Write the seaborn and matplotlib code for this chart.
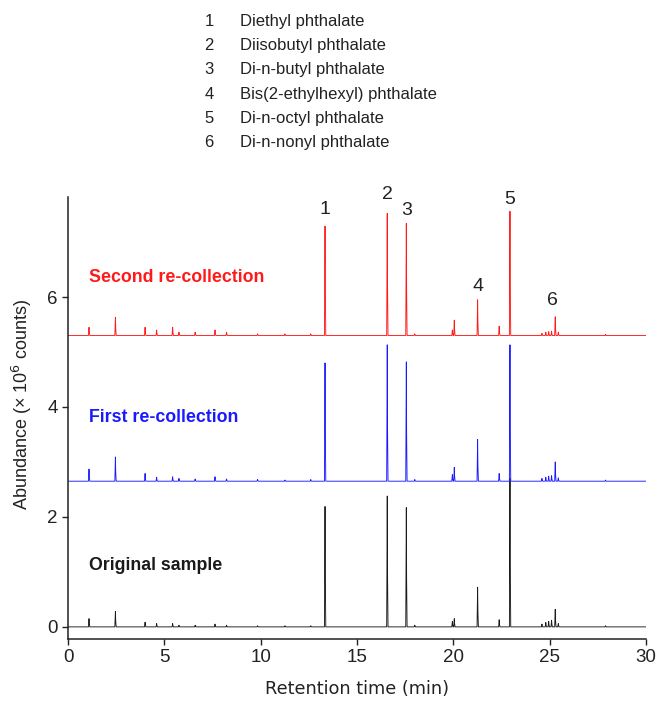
import matplotlib
matplotlib.use("Agg")
import matplotlib.pyplot as plt
import seaborn as sns
import pandas as pd

# retention times (min) of the peaks seen in the traces
peak_times = [1.09, 2.46, 4.0, 4.6, 5.43, 5.76, 6.6, 7.63, 8.23, 9.84, 11.26, 12.6,
              13.34, 16.57, 17.56, 18.0, 19.95, 20.05, 21.26, 22.38, 22.94,
              24.6, 24.8, 24.95, 25.1, 25.29, 25.45, 27.9]

# peak heights above each baseline (x 10^6 counts)
original = [0.15, 0.28, 0.085, 0.06, 0.06, 0.03, 0.03, 0.05, 0.03, 0.02, 0.02, 0.02,
            2.19, 2.38, 2.17, 0.03, 0.10, 0.15, 0.72, 0.13, 2.70,
            0.05, 0.08, 0.10, 0.12, 0.32, 0.06, 0.02]
first = [0.22, 0.44, 0.14, 0.07, 0.08, 0.05, 0.04, 0.08, 0.04, 0.03, 0.02, 0.03,
         2.15, 2.48, 2.17, 0.03, 0.12, 0.25, 0.76, 0.14, 2.48,
         0.05, 0.07, 0.09, 0.10, 0.35, 0.06, 0.02]
second = [0.15, 0.33, 0.15, 0.10, 0.15, 0.06, 0.06, 0.10, 0.06, 0.03, 0.03, 0.03,
          1.99, 2.22, 2.04, 0.03, 0.10, 0.28, 0.65, 0.17, 2.26,
          0.04, 0.06, 0.07, 0.08, 0.34, 0.06, 0.02]

samples = ["Original sample", "First re-collection", "Second re-collection"]
baselines = [0.0, 2.65, 5.3]
colors = ["#1a1a1a", "#1a1aff", "#ff1a1a"]
label_y = [1.11, 3.8, 6.36]

# labelled compounds
compounds = ["Diethyl phthalate", "Diisobutyl phthalate", "Di-n-butyl phthalate",
             "Bis(2-ethylhexyl) phthalate", "Di-n-octyl phthalate", "Di-n-nonyl phthalate"]
num_x = [13.34, 16.57, 17.56, 21.26, 22.94, 25.15]
num_y = [7.6, 7.87, 7.58, 6.2, 7.78, 5.93]

# build the traces as a long table
rows = []
for name, base, heights in zip(samples, baselines, [original, first, second]):
    rows.append((name, 0.0, base))
    for t, h in zip(peak_times, heights):
        rows.append((name, t - 0.03, base))
        rows.append((name, t - 0.01, base + 0.6 * h))
        rows.append((name, t, base + h))
        rows.append((name, t + 0.015, base + 0.4 * h))
        rows.append((name, t + 0.04, base))
    rows.append((name, 30.0, base))
df = pd.DataFrame(rows, columns=["sample", "time", "abundance"])

sns.set_style("ticks")
plt.rcParams["font.family"] = ["Liberation Sans", "DejaVu Sans"]

fig = plt.figure(figsize=(6.61, 7.08), dpi=100)
ax = fig.add_axes([0.1029, 0.0975, 0.8744, 0.6243])

sns.lineplot(data=df, x="time", y="abundance", hue="sample", palette=dict(zip(samples, colors)),
             estimator=None, sort=False, lw=0.65, legend=False, ax=ax)

ax.set_xlim(0, 30)
ax.set_ylim(-0.22, 7.82)
ax.set_xticks([0, 5, 10, 15, 20, 25, 30])
ax.set_yticks([0, 2, 4, 6])
ax.tick_params(labelsize=13.5, length=4, width=1, colors="#222222")
sns.despine(ax=ax)
for s in ["left", "bottom"]:
    ax.spines[s].set_linewidth(1.1)
    ax.spines[s].set_color("#222222")

ax.set_xlabel("Retention time (min)", fontsize=12.8, color="#222222", labelpad=10,
              family=["DejaVu Sans"])
ax.set_ylabel("Abundance (× 10$^6$ counts)", fontsize=13, color="#222222")
ax.yaxis.set_label_coords(-0.058, 0.53)

for name, y, c in zip(samples, label_y, colors):
    ax.text(1.1, y, name, color=c, fontsize=12.8, fontweight="bold", va="center", ha="left")

for i, (x, y) in enumerate(zip(num_x, num_y)):
    ax.text(x, y, str(i + 1), fontsize=14, ha="center", va="center", color="#222222")

for i, name in enumerate(compounds):
    y = 1 - (21.5 + 24.2 * i) / 708
    fig.text(209 / 661, y, str(i + 1), fontsize=12, ha="center", va="center", color="#222222")
    fig.text(240 / 661, y, name, fontsize=12, ha="left", va="center", color="#222222")

fig.savefig("out.png", dpi=100)
